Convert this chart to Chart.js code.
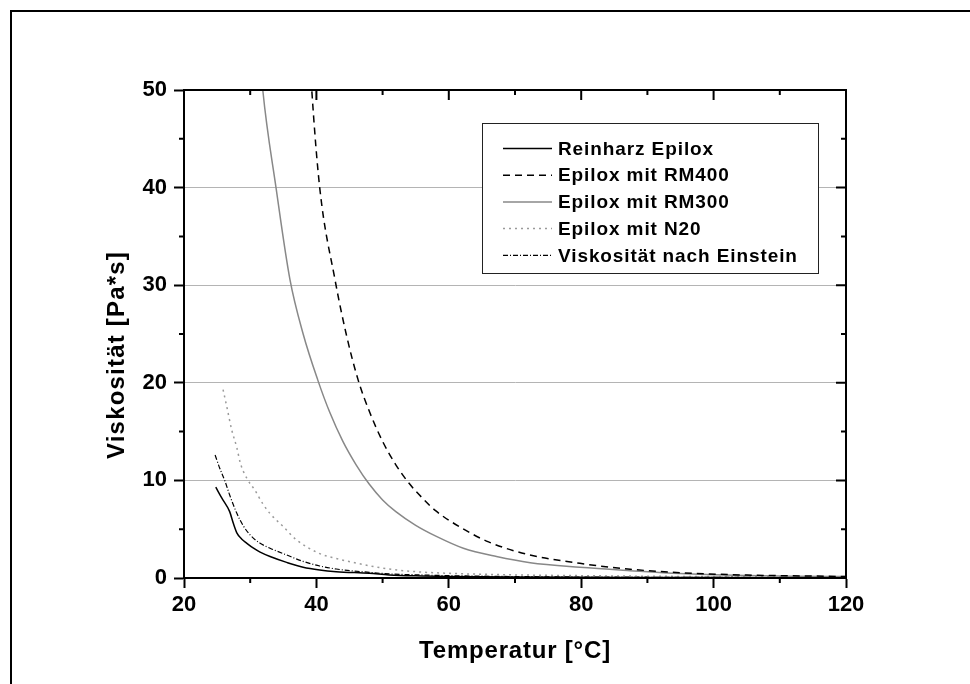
<!DOCTYPE html>
<html>
<head>
<meta charset="utf-8">
<script src="https://cdn.jsdelivr.net/npm/chart.js@4/dist/chart.umd.min.js"></script>
<style>
  html, body { margin: 0; padding: 0; background: #fff; }
  #wrap { width: 970px; height: 684px; }
</style>
</head>
<body>
<div id="wrap"><canvas id="chart" width="970" height="684"></canvas></div>
<script>
// axis ticks
const xTicks = [20, 40, 60, 80, 100, 120];
const yTicks = [0, 10, 20, 30, 40, 50];
const xMinor = [30, 50, 70, 90, 110];
const yMinor = [5, 15, 25, 35, 45];

// Reinharz Epilox
const tempReinharz = [24.8, 25.7, 26.9, 27.45, 28.0, 28.7, 29.5, 30.5, 31.5, 33, 35.5, 38, 40.5, 43, 48, 51, 55, 60, 70, 80, 90, 100, 110, 120];
const viscReinharz = [9.3, 8.2, 6.8, 5.6, 4.6, 4.0, 3.55, 3.05, 2.65, 2.2, 1.6, 1.1, 0.82, 0.65, 0.48, 0.32, 0.22, 0.16, 0.1, 0.07, 0.05, 0.04, 0.03, 0.03];

// Epilox mit RM400
const tempRM400 = [38.8, 39.3, 40.5, 42.8, 44.5, 46.3, 48.1, 50, 52, 54, 56, 58, 62, 66, 72, 79.8, 87.4, 94.9, 105, 115, 120];
const viscRM400 = [56, 50, 40, 30.6, 25, 20.3, 16.9, 14.0, 11.6, 9.7, 8.2, 6.9, 5.1, 3.7, 2.4, 1.5, 0.9, 0.55, 0.3, 0.2, 0.15];

// Epilox mit RM300
const tempRM300 = [31.2, 31.9, 33.9, 36, 38, 40.2, 42, 44, 46, 48, 50, 52, 55, 58.2, 62.2, 67.2, 72.3, 79.8, 87.4, 94.9, 105, 112, 120];
const viscRM300 = [56, 50, 40, 30.6, 25, 20.3, 17.0, 14.0, 11.6, 9.6, 8.0, 6.8, 5.4, 4.24, 3.05, 2.2, 1.57, 1.1, 0.75, 0.45, 0.25, 0.18, 0.15];

// Epilox mit N20
const tempN20 = [25.9, 26.45, 27.2, 28.0, 28.5, 29.5, 30.7, 32, 33, 35, 37, 40.5, 43, 45.5, 50.6, 55, 60, 70, 80, 90, 100, 110, 120];
const viscN20 = [19.3, 17.6, 15.2, 13.3, 11.8, 10.2, 9.0, 7.5, 6.6, 5.26, 3.9, 2.5, 2.0, 1.6, 0.95, 0.65, 0.48, 0.32, 0.24, 0.18, 0.15, 0.12, 0.1];

// Viskosität nach Einstein
const tempEinstein = [24.7, 25.4, 26.2, 26.9, 28.0, 29.0, 30.0, 31.5, 33, 35.5, 38, 40.5, 43, 48, 51, 55, 60, 70, 80, 90, 100, 110, 120];
const viscEinstein = [12.6, 11.25, 9.9, 8.5, 6.6, 5.3, 4.4, 3.56, 3.05, 2.36, 1.7, 1.23, 0.92, 0.58, 0.42, 0.33, 0.24, 0.15, 0.1, 0.08, 0.06, 0.05, 0.04];

const toPoints = (xs, ys) => xs.map((x, i) => ({x, y: ys[i]}));

const FONT = '"Liberation Sans", Arial, sans-serif';

const framePlugin = {
  id: 'frame',
  beforeDraw(chart) {
    const {ctx} = chart;
    ctx.save();
    ctx.fillStyle = '#fff';
    ctx.fillRect(0, 0, chart.width, chart.height);
    ctx.restore();
  },
  afterDraw(chart) {
    const {ctx, chartArea: a, scales: {x, y}} = chart;
    ctx.save();
    ctx.strokeStyle = '#000';

    // outer frame
    ctx.lineWidth = 2;
    ctx.strokeRect(11, 11, 1000, 1000);

    // top and right axis lines
    ctx.beginPath();
    ctx.moveTo(a.left - 1, a.top);
    ctx.lineTo(a.right + 1, a.top);
    ctx.moveTo(a.right, a.top);
    ctx.lineTo(a.right, a.bottom);
    ctx.stroke();

    // ticks: minor outside on bottom/left, all inside on top/right
    ctx.beginPath();
    xTicks.forEach(v => {
      const px = x.getPixelForValue(v);
      ctx.moveTo(px, a.top); ctx.lineTo(px, a.top + 10);
    });
    xMinor.forEach(v => {
      const px = x.getPixelForValue(v);
      ctx.moveTo(px, a.bottom); ctx.lineTo(px, a.bottom + 5);
      ctx.moveTo(px, a.top); ctx.lineTo(px, a.top + 5);
    });
    yTicks.forEach(v => {
      const py = y.getPixelForValue(v);
      ctx.moveTo(a.right, py); ctx.lineTo(a.right - 10, py);
    });
    yMinor.forEach(v => {
      const py = y.getPixelForValue(v);
      ctx.moveTo(a.left, py); ctx.lineTo(a.left - 5, py);
      ctx.moveTo(a.right, py); ctx.lineTo(a.right - 5, py);
    });
    ctx.stroke();

    // axis titles
    ctx.fillStyle = '#000';
    ctx.font = 'bold 24px ' + FONT;
    ctx.letterSpacing = '0.8px';
    ctx.textAlign = 'center';
    ctx.textBaseline = 'middle';
    ctx.fillText('Temperatur [°C]', (a.left + a.right) / 2, 651);
    ctx.save();
    ctx.translate(117, 355);
    ctx.rotate(-Math.PI / 2);
    ctx.letterSpacing = '1.2px';
    ctx.fillText('Viskosität [Pa*s]', 0, 0);
    ctx.restore();

    // legend box
    const bx = 482.5, by = 123.5, bw = 336, bh = 150;
    ctx.fillStyle = '#fff';
    ctx.fillRect(bx, by, bw, bh);
    ctx.lineWidth = 1;
    ctx.strokeStyle = '#222';
    ctx.strokeRect(bx, by, bw, bh);
    ctx.font = 'bold 19px ' + FONT;
    ctx.letterSpacing = '0.9px';
    ctx.textAlign = 'left';
    chart.data.datasets.forEach((ds, i) => {
      const ly = 148.5 + i * 26.7;
      ctx.beginPath();
      ctx.setLineDash(ds.borderDash || []);
      ctx.strokeStyle = ds.borderColor;
      ctx.lineWidth = ds.borderWidth;
      ctx.moveTo(503, ly);
      ctx.lineTo(552, ly);
      ctx.stroke();
      ctx.setLineDash([]);
      ctx.fillStyle = '#000';
      ctx.fillText(ds.label, 558, ly + 1);
    });
    ctx.restore();
  }
};

const lineDefaults = {
  pointRadius: 0,
  fill: false,
  cubicInterpolationMode: 'monotone'
};

new Chart(document.getElementById('chart'), {
  type: 'line',
  data: {
    datasets: [
      {...lineDefaults, label: 'Reinharz Epilox', data: toPoints(tempReinharz, viscReinharz),
        borderColor: '#000', borderWidth: 1.5},
      {...lineDefaults, label: 'Epilox mit RM400', data: toPoints(tempRM400, viscRM400),
        borderColor: '#000', borderWidth: 1.5, borderDash: [7, 5]},
      {...lineDefaults, label: 'Epilox mit RM300', data: toPoints(tempRM300, viscRM300),
        borderColor: '#888', borderWidth: 1.5},
      {...lineDefaults, label: 'Epilox mit N20', data: toPoints(tempN20, viscN20),
        borderColor: '#9a9a9a', borderWidth: 1.5, borderDash: [2, 4]},
      {...lineDefaults, label: 'Viskosität nach Einstein', data: toPoints(tempEinstein, viscEinstein),
        borderColor: '#000', borderWidth: 1.2, borderDash: [5, 2, 1, 2]}
    ]
  },
  options: {
    responsive: false,
    animation: false,
    devicePixelRatio: 1,
    layout: {padding: {left: 0, top: 90, right: 124, bottom: 0}},
    plugins: {legend: {display: false}, tooltip: {enabled: false}},
    scales: {
      x: {
        type: 'linear',
        min: 20, max: 120,
        afterBuildTicks: s => { s.ticks = xTicks.map(v => ({value: v})); },
        afterFit: s => { s.height = 106; s.paddingLeft = 0; s.paddingRight = 0; },
        grid: {drawOnChartArea: false, tickLength: 10, tickColor: '#000', tickWidth: 2},
        border: {color: '#000', width: 2},
        ticks: {color: '#000', padding: 4, font: {family: FONT, size: 22, weight: 'bold'}}
      },
      y: {
        type: 'linear',
        min: 0, max: 50,
        afterBuildTicks: s => { s.ticks = yTicks.map(v => ({value: v})); },
        afterFit: s => { s.width = 184; },
        grid: {
          color: c => (c.tick && c.tick.value > 0 && c.tick.value < 50) ? '#b4b4b4' : 'rgba(0,0,0,0)',
          lineWidth: 1, tickLength: 10, tickColor: '#000', tickWidth: 2
        },
        border: {color: '#000', width: 2},
        ticks: {color: '#000', padding: 7, font: {family: FONT, size: 22, weight: 'bold'}}
      }
    }
  },
  plugins: [framePlugin]
});
</script>
</body>
</html>
